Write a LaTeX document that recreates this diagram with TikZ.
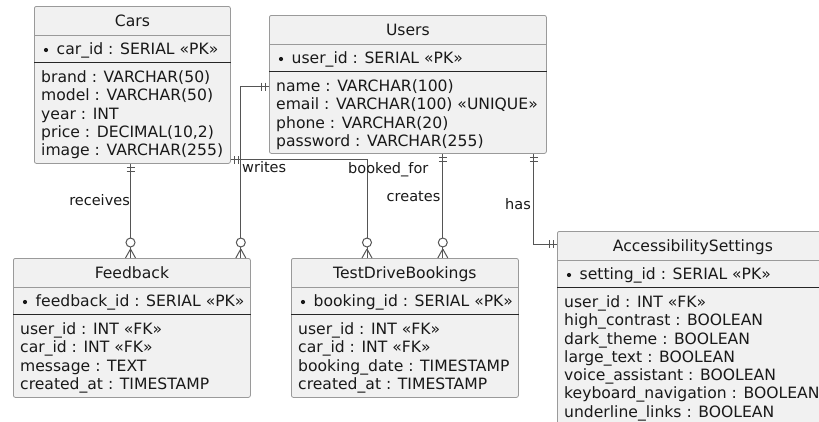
\documentclass[tikz,border=0pt]{standalone}
\usepackage{fontspec}
\setmainfont{DejaVu Sans}
\usetikzlibrary{calc}
\usetikzlibrary{positioning}

\definecolor{entityfill}{HTML}{F1F1F1}
\definecolor{entityline}{HTML}{9A9A9A}
\definecolor{relline}{HTML}{555555}

\tikzset{
  entity/.style={draw=entityline, fill=entityfill, line width=0.8pt, rounded corners=2pt, inner sep=0pt},
  etext/.style={inner sep=0pt, font=\fontsize{15.6}{18}\selectfont, text=black!90},
  lbl/.style={inner sep=0pt, font=\fontsize{14.5}{17}\selectfont, text=black!90},
  titlesep/.style={draw=entityline, line width=0.8pt},
  pksep/.style={draw=black!85, line width=1pt},
  rel/.style={draw=relline, line width=1pt},
  onebar/.pic={\draw[rel] (4,-4) -- (4,4) (7.5,-4) -- (7.5,4);},
  zeromany/.pic={\draw[rel] (9,0) -- (0,-5) (9,0) -- (0,5); \draw[rel, fill=white] (15.5,0) circle (4.5pt);}
}

% name, left, top, width, height, title, key, attributes
\newcommand{\erentity}[8]{%
  \node[entity, minimum width=#4, minimum height=#5, anchor=north west] (#1) at (#2,-#3) {};
  \draw[titlesep] ($(#1.north west)+(0,-29)$) -- ($(#1.north east)+(0,-29)$);
  \draw[pksep] ($(#1.north west)+(0,-56)$) -- ($(#1.north east)+(0,-56)$);
  \node[etext, anchor=base] (#1-title) at ($(#1.north)+(0,-20.5)$) {#6};
  \fill[black!90] ($(#1.north west)+(12,-44)$) circle (2.1pt);
  \node[etext, anchor=base west] (#1-pk) at ($(#1.north west)+(22.5,-48.5)$) {#7};
  \foreach \attr [count=\i from 0] in {#8}
    \node[etext, anchor=base west] (#1-a\i) at ($(#1.north west)+(7,-76.5-18.25*\i)$) {\attr};
}

\begin{document}
\begin{tikzpicture}[x=1pt, y=1pt]
  \useasboundingbox (0,0) rectangle (819,-421);
  \clip (0,0) rectangle (819,-421);

  % tables
  \erentity{cars}{34}{6}{196}{157}{Cars}{car\_id : SERIAL «PK»}{brand : VARCHAR(50), model : VARCHAR(50), year : INT, {price : DECIMAL(10,2)}, image : VARCHAR(255)}
  \erentity{users}{269}{15}{277}{138}{Users}{user\_id : SERIAL «PK»}{name : VARCHAR(100), email : VARCHAR(100) «UNIQUE», phone : VARCHAR(20), password : VARCHAR(255)}
  \erentity{fb}{13}{258}{237}{139}{Feedback}{feedback\_id : SERIAL «PK»}{user\_id : INT «FK», car\_id : INT «FK», message : TEXT, created\_at : TIMESTAMP}
  \erentity{tdb}{291}{258}{227}{139}{TestDriveBookings}{booking\_id : SERIAL «PK»}{user\_id : INT «FK», car\_id : INT «FK», booking\_date : TIMESTAMP, created\_at : TIMESTAMP}
  \erentity{acc}{557}{231}{271}{200}{AccessibilitySettings}{setting\_id : SERIAL «PK»}{user\_id : INT «FK», high\_contrast : BOOLEAN, dark\_theme : BOOLEAN, large\_text : BOOLEAN, voice\_assistant : BOOLEAN, keyboard\_navigation : BOOLEAN, underline\_links : BOOLEAN}

  % relations
  \coordinate (recv) at ($(cars.south west)+(96.5,0)$);
  \draw[rel] (recv) -- (recv |- fb.north);
  \pic[rotate=-90] at (recv) {onebar};
  \pic[rotate=90] at (recv |- fb.north) {zeromany};

  \coordinate (wrt) at ($(fb.north east)+(-10,0)$);
  \draw[rel] (users.west |- users-a0) -| (wrt);
  \pic[rotate=180] at (users.west |- users-a0) {onebar};
  \pic[rotate=90] at (wrt) {zeromany};

  \coordinate (bkd) at ($(tdb.north west)+(76,0)$);
  \draw[rel] ($(cars.south east)+(0,4)$) -| (bkd);
  \pic at ($(cars.south east)+(0,4)$) {onebar};
  \pic[rotate=90] at (bkd) {zeromany};

  \coordinate (crt) at ($(tdb.north east)+(-76,0)$);
  \draw[rel] (crt |- users.south) -- (crt);
  \pic[rotate=-90] at (crt |- users.south) {onebar};
  \pic[rotate=90] at (crt) {zeromany};

  \coordinate (hs) at ($(users.south east)+(-13,0)$);
  \draw[rel] (hs) |- ($(acc.north west)+(0,-13)$);
  \pic[rotate=-90] at (hs) {onebar};
  \pic[rotate=180] at ($(acc.north west)+(0,-13)$) {onebar};

  % labels
  \node[lbl, anchor=base east] (receives) at (130,-205.5) {receives};
  \node[lbl, anchor=base west] (writes) at (242,-172) {writes};
  \node[lbl, anchor=base west] (bookedfor) at (348,-173.5) {booked\_for};
  \node[lbl, anchor=base east] (creates) at (440.5,-201) {creates};
  \node[lbl, anchor=base east] (has) at (531,-209) {has};
\end{tikzpicture}
\end{document}
